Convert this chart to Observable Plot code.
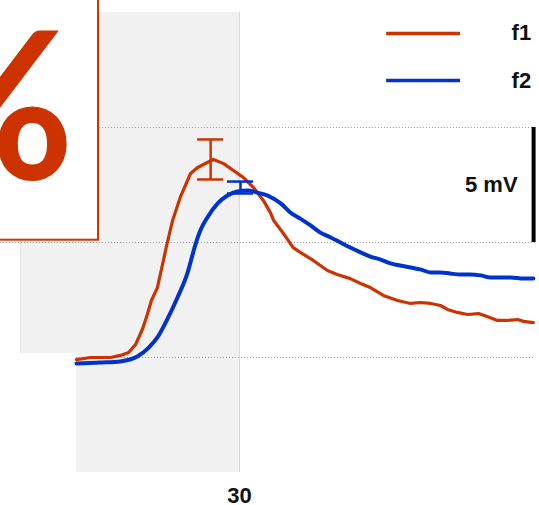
<!DOCTYPE html>
<html>
<head>
<meta charset="utf-8">
<script src="https://cdn.jsdelivr.net/npm/d3@7"></script>
<script src="https://cdn.jsdelivr.net/npm/@observablehq/plot@0.6"></script>
<style>
  html, body { margin: 0; padding: 0; background: #fff; overflow: hidden; }
  svg { display: block; }
</style>
</head>
<body>
<div id="chart"></div>
<script>
// ---- data (time in ms, potential in mV) ----
const seriesNames = ["f1", "f2"];
const seriesColors = ["#cc3300", "#0033cc"];

const f1Time  = [0, 2.6, 6.3, 8.1, 9.6, 10.9, 12.2, 13.1, 13.8, 14.9, 15.8, 16.6, 17.7, 19.1, 21.0, 22.3, 24.1, 25.2, 27.1, 28.9, 30.7, 32.6, 34.4, 35.7, 36.3, 38.1, 39.9, 41.2, 43.6, 46.2, 48.0, 50.4, 52.3, 54.1, 56.5, 59.1, 61.5, 63.3, 65.2, 67.0, 68.3, 70.1, 72.0, 74.0, 75.6, 77.5, 79.3, 81.2, 82.3, 84.1];
const f1Value = [-0.09, 0.0, 0.0, 0.09, 0.22, 0.57, 1.26, 1.91, 2.48, 3.04, 4.0, 4.87, 5.96, 6.96, 8.0, 8.26, 8.48, 8.61, 8.43, 8.13, 7.83, 7.39, 6.83, 6.30, 5.96, 5.39, 4.78, 4.57, 4.22, 3.78, 3.61, 3.43, 3.22, 3.04, 2.70, 2.48, 2.35, 2.39, 2.35, 2.26, 2.09, 1.96, 1.87, 1.91, 1.78, 1.61, 1.61, 1.65, 1.57, 1.52];

const f2Time  = [0, 4.4, 8.1, 11.2, 13.3, 14.9, 16.8, 18.6, 20.4, 21.9, 22.8, 24.1, 26.0, 27.8, 29.6, 31.5, 33.3, 35.2, 37.6, 39.4, 41.2, 43.1, 44.9, 46.8, 48.6, 50.4, 52.3, 54.1, 56.0, 57.8, 59.6, 61.5, 63.3, 65.2, 67.0, 68.8, 70.7, 72.5, 74.4, 76.2, 78.0, 79.9, 82.3, 84.1];
const f2Value = [-0.26, -0.22, -0.17, 0.04, 0.43, 0.87, 1.70, 2.61, 3.65, 4.91, 5.52, 6.09, 6.70, 7.04, 7.22, 7.26, 7.17, 7.04, 6.70, 6.30, 6.04, 5.74, 5.43, 5.22, 5.0, 4.78, 4.57, 4.39, 4.26, 4.09, 4.0, 3.91, 3.83, 3.70, 3.70, 3.65, 3.61, 3.61, 3.57, 3.48, 3.48, 3.48, 3.43, 3.43];

// error bars at the peaks
const errSeries = ["f1", "f2"];
const errTime   = [24.7, 30.2];
const errLow    = [7.74, 7.13];
const errHigh   = [9.48, 7.65];

// axis ticks and gridlines
const xTicks = [30];
const yGrid = [0, 5, 10];

// scale bar
const scaleBarLabel = "5 mV";
const scaleBarFrom = 5;
const scaleBarTo = 10;

// inset label
const insetText = "%";

// ---- layout (not data) ----
const W = 539, H = 505;
const mL = 20, mR = 4, mT = 12, mB = 33;
const xDomain = [-10.3, 84.5];
const yDomain = [-5, 15];
const pxPerMs = (W - mL - mR) / (xDomain[1] - xDomain[0]);
const capHalf = 13 / pxPerMs;
const font = "'Liberation Sans', Arial, sans-serif";

const f1 = f1Time.map((t, i) => ({t, v: f1Value[i], s: "f1"}));
const f2 = f2Time.map((t, i) => ({t, v: f2Value[i], s: "f2"}));
const errs = errTime.map((t, i) => ({t, lo: errLow[i], hi: errHigh[i], s: errSeries[i]}));
const colorOf = s => seriesColors[seriesNames.indexOf(s)];

const legendX1 = 57.1, legendX2 = 70.7, legendTextX = 80.1;
const legendY = [14.09, 12.04];
const legend = seriesNames.map((s, i) => ({s, y: legendY[i]}));

const chart = Plot.plot({
  width: W, height: H,
  marginLeft: mL, marginRight: mR, marginTop: mT, marginBottom: mB,
  style: {fontFamily: font, background: "#fff"},
  x: {domain: xDomain, axis: null},
  y: {domain: yDomain, axis: null},
  marks: [
    // shaded windows
    Plot.rect([{x1: xDomain[0], x2: 30, y1: 0.17, y2: 15}], {x1: "x1", x2: "x2", y1: "y1", y2: "y2", fill: "#f1f1f1"}),
    Plot.rect([{x1: 0, x2: 30, y1: -5, y2: 15}], {x1: "x1", x2: "x2", y1: "y1", y2: "y2", fill: "#f1f1f1"}),
    Plot.ruleX([30], {y1: -5, y2: 15, stroke: "#d8d8d8", strokeWidth: 1}),
    Plot.ruleX([xDomain[0]], {y1: 0.17, y2: 15, stroke: "#e2e2e2", strokeWidth: 1}),
    // dotted gridlines
    Plot.ruleY(yGrid.filter(v => v !== 0), {x1: -14, x2: 84.5, stroke: "#999", strokeWidth: 1, strokeDasharray: "1,2"}),
    Plot.ruleY(yGrid.filter(v => v === 0), {x1: 0, x2: 84.5, stroke: "#999", strokeWidth: 1, strokeDasharray: "1,2"}),
    // inset box with big label
    Plot.rect([{x1: -16, x2: 4.06, y1: 5.1, y2: 16.5}], {x1: "x1", x2: "x2", y1: "y1", y2: "y2", fill: "#fff", stroke: "#cc3300", strokeWidth: 2}),
    Plot.text([insetText], {x: -0.36, y: 10.63, text: d => d, textAnchor: "end", fontSize: 205, fontWeight: "bold", fontFamily: "Lato, sans-serif", fill: "#cc3300"}),
    // traces
    Plot.line(f1, {x: "t", y: "v", stroke: colorOf("f1"), strokeWidth: 3.2}),
    Plot.line(f2, {x: "t", y: "v", stroke: colorOf("f2"), strokeWidth: 4, curve: "monotone-x"}),
    // error bars
    Plot.ruleX(errs, {x: "t", y1: "lo", y2: "hi", stroke: d => colorOf(d.s), strokeWidth: 2.5}),
    Plot.ruleY(errs, {y: "lo", x1: d => d.t - capHalf, x2: d => d.t + capHalf, stroke: d => colorOf(d.s), strokeWidth: 2.5}),
    Plot.ruleY(errs, {y: "hi", x1: d => d.t - capHalf, x2: d => d.t + capHalf, stroke: d => colorOf(d.s), strokeWidth: 2.5}),
    // scale bar
    Plot.ruleX([84.15], {y1: scaleBarFrom, y2: scaleBarTo, stroke: "#000", strokeWidth: 4}),
    Plot.text([scaleBarLabel], {x: 81.2, y: (scaleBarFrom + scaleBarTo) / 2, text: d => d, textAnchor: "end", fontSize: 22, fontWeight: "bold", fill: "#111"}),
    // legend
    Plot.ruleY(legend, {y: "y", x1: legendX1, x2: legendX2, stroke: d => colorOf(d.s), strokeWidth: 3.5}),
    Plot.text(legend, {x: legendTextX, y: "y", text: "s", textAnchor: "start", fontSize: 22, fontWeight: "bold", fill: "#111"}),
    // x axis
    Plot.axisX(xTicks, {tickSize: 0, tickPadding: 15, fontSize: 22, fontWeight: "bold", fill: "#111", label: null})
  ]
});
document.getElementById("chart").appendChild(chart);
</script>
</body>
</html>
